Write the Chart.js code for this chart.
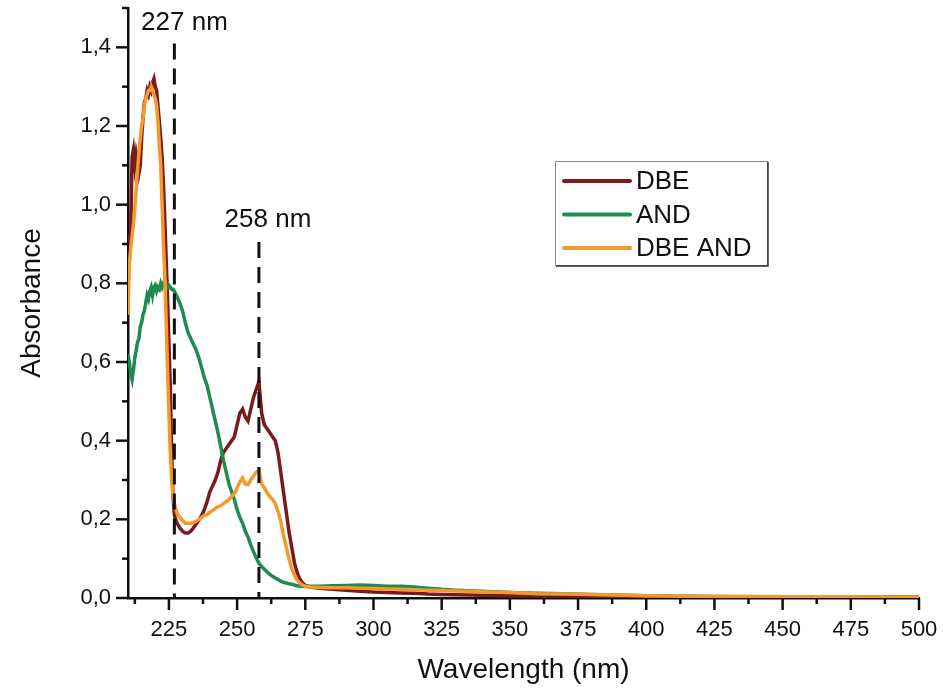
<!DOCTYPE html>
<html>
<head>
<meta charset="utf-8">
<script src="https://cdn.jsdelivr.net/npm/chart.js@4/dist/chart.umd.min.js"></script>
<style>
  html, body { margin: 0; padding: 0; background: #fff; }
  #wrap { width: 943px; height: 693px; }
</style>
</head>
<body>
<div id="wrap"><canvas id="c" width="943" height="693"></canvas></div>
<script>
// UV-Vis absorption spectra (wavelength in nm, absorbance)
const wavelength = [
  210, 210.5, 211, 211.5, 212, 212.5, 213, 213.5, 214, 214.5,
  215, 215.5, 216, 216.5, 217, 217.5, 218, 218.5, 219, 219.5,
  220, 220.5, 221, 221.5, 222, 222.5, 223, 223.5, 224, 224.5,
  225, 225.5, 226, 226.5, 227,
  228, 229, 230, 231, 232, 233, 234, 235, 236, 237,
  238, 239, 240, 241, 242, 243, 244, 245, 246, 247,
  248, 249, 250, 251, 252, 253, 254, 255, 256, 257,
  258, 259, 260, 261, 262, 263, 264, 265, 266, 267,
  268, 269, 270, 271, 272, 273, 274, 275,
  277, 280, 285, 290, 295, 300, 305, 310, 315, 320, 325,
  330, 340, 350, 360, 370, 380, 400, 425, 450, 475, 500
];

const absDBE = [
  0.92, 0.91, 0.93, 1.12, 1.14, 1.10, 1.13, 1.11, 1.08, 1.10,
  1.17, 1.22, 1.26, 1.27, 1.29, 1.28, 1.30, 1.29, 1.31, 1.32,
  1.30, 1.29, 1.25, 1.21, 1.17, 1.12, 1.05, 0.96, 0.86, 0.76,
  0.65, 0.54, 0.37, 0.26, 0.21,
  0.19, 0.178, 0.17, 0.165, 0.165, 0.17, 0.178, 0.188, 0.198, 0.21,
  0.225, 0.245, 0.27, 0.285, 0.30, 0.32, 0.35, 0.37, 0.38, 0.39,
  0.40, 0.41, 0.44, 0.47, 0.48, 0.46, 0.45, 0.48, 0.51, 0.53,
  0.55, 0.47, 0.44, 0.43, 0.42, 0.41, 0.40, 0.37, 0.32, 0.27,
  0.22, 0.17, 0.13, 0.09, 0.065, 0.048, 0.038, 0.032,
  0.028, 0.025, 0.022, 0.020, 0.017, 0.015, 0.014, 0.013, 0.012, 0.010, 0.009,
  0.008, 0.007, 0.006, 0.005, 0.005, 0.004, 0.003, 0.003, 0.002, 0.002, 0.002
];

const absAND = [
  0.62, 0.60, 0.57, 0.555, 0.58, 0.61, 0.63, 0.65, 0.66, 0.69,
  0.70, 0.72, 0.73, 0.75, 0.77, 0.76, 0.78, 0.79, 0.77, 0.79,
  0.795, 0.78, 0.79, 0.785, 0.80, 0.79, 0.80, 0.795, 0.80, 0.79,
  0.795, 0.79, 0.785, 0.785, 0.78,
  0.765, 0.75, 0.73, 0.70, 0.675, 0.66, 0.645, 0.63, 0.61, 0.585,
  0.56, 0.54, 0.51, 0.48, 0.45, 0.42, 0.385, 0.35, 0.32, 0.29,
  0.27, 0.25, 0.225, 0.205, 0.19, 0.17, 0.155, 0.135, 0.118, 0.102,
  0.088, 0.080, 0.073, 0.066, 0.060, 0.055, 0.051, 0.047, 0.043, 0.040,
  0.038, 0.036, 0.035, 0.033, 0.031, 0.030, 0.029, 0.029,
  0.030, 0.030, 0.031, 0.032, 0.033, 0.032, 0.030, 0.030, 0.028, 0.025, 0.022,
  0.020, 0.017, 0.014, 0.012, 0.011, 0.009, 0.006, 0.004, 0.003, 0.003, 0.002
];

const absDBEAND = [
  0.72, 0.85, 0.89, 0.92, 0.95, 0.99, 1.04, 1.09, 1.13, 1.17,
  1.20, 1.22, 1.25, 1.27, 1.28, 1.29, 1.29, 1.30, 1.29, 1.28,
  1.27, 1.25, 1.21, 1.15, 1.10, 1.00, 0.90, 0.82, 0.70, 0.58,
  0.47, 0.37, 0.30, 0.26, 0.24,
  0.215, 0.205, 0.197, 0.19, 0.19, 0.19, 0.192, 0.195, 0.20, 0.205,
  0.21, 0.212, 0.218, 0.222, 0.228, 0.232, 0.235, 0.24, 0.245, 0.25,
  0.258, 0.265, 0.28, 0.295, 0.305, 0.29, 0.288, 0.30, 0.31, 0.32,
  0.325, 0.29, 0.28, 0.268, 0.258, 0.25, 0.24, 0.22, 0.195, 0.16,
  0.13, 0.10, 0.075, 0.058, 0.045, 0.038, 0.033, 0.030,
  0.028, 0.027, 0.026, 0.026, 0.025, 0.024, 0.023, 0.022, 0.021, 0.020, 0.019,
  0.018, 0.016, 0.014, 0.011, 0.010, 0.009, 0.006, 0.004, 0.003, 0.003, 0.002
];

const seriesNames = ['DBE', 'AND', 'DBE AND'];
const seriesColors = ['#7b1a1c', '#1f8b4f', '#f49a2c'];

const xTicks = [225, 250, 275, 300, 325, 350, 375, 400, 425, 450, 475, 500];
const xMinorTicks = [212.5, 237.5, 262.5, 287.5, 312.5, 337.5, 362.5, 387.5, 412.5, 437.5, 462.5, 487.5];
const yTicks = [0, 0.2, 0.4, 0.6, 0.8, 1.0, 1.2, 1.4];
const yMinorTicks = [0.1, 0.3, 0.5, 0.7, 0.9, 1.1, 1.3, 1.5];

// Peak wavelengths marked with dashed lines
const peakWavelengths = [227, 258];
const peakLabels = ['227 nm', '258 nm'];

const FONT = '"Liberation Sans", Arial, Helvetica, sans-serif';
const INK = '#111';
Chart.defaults.font.family = FONT;
Chart.defaults.color = INK;

const toPoints = (ys) => wavelength.map((w, i) => ({ x: w, y: ys[i] }));

// Major and minor tick marks, drawn outward from the axes
const tickMarks = {
  id: 'tickMarks',
  afterDraw(chart) {
    const { ctx, chartArea: a, scales: { x, y } } = chart;
    ctx.save();
    ctx.strokeStyle = INK;
    ctx.lineWidth = 2.5;
    const seg = (x1, y1, x2, y2) => { ctx.beginPath(); ctx.moveTo(x1, y1); ctx.lineTo(x2, y2); ctx.stroke(); };
    xTicks.forEach(v => { const p = x.getPixelForValue(v); seg(p, a.bottom, p, a.bottom + 12); });
    xMinorTicks.forEach(v => { const p = x.getPixelForValue(v); seg(p, a.bottom, p, a.bottom + 6); });
    yTicks.forEach(v => { const p = y.getPixelForValue(v); seg(a.left - 12, p, a.left, p); });
    yMinorTicks.forEach(v => { const p = y.getPixelForValue(v); seg(a.left - 6, p, a.left, p); });
    ctx.restore();
  }
};

// Dashed vertical markers with their wavelength labels
const peakMarkers = {
  id: 'peakMarkers',
  afterDatasetsDraw(chart, args, opts) {
    const { ctx, scales: { x, y } } = chart;
    ctx.save();
    opts.items.forEach(m => {
      const px = x.getPixelForValue(m.nm);
      ctx.strokeStyle = INK;
      ctx.lineWidth = 3;
      ctx.setLineDash([16, 9]);
      ctx.beginPath();
      ctx.moveTo(px, y.getPixelForValue(m.top));
      ctx.lineTo(px, y.getPixelForValue(0));
      ctx.stroke();
      ctx.setLineDash([]);
      ctx.fillStyle = INK;
      ctx.font = '26px ' + FONT;
      ctx.textAlign = 'center';
      ctx.textBaseline = 'middle';
      ctx.fillText(m.text, x.getPixelForValue(m.textNm), y.getPixelForValue(m.textAbs));
    });
    ctx.restore();
  }
};

// Boxed legend inside the plot area
const boxLegend = {
  id: 'boxLegend',
  afterDraw(chart, args, opts) {
    const { ctx } = chart;
    const b = opts.box;
    ctx.save();
    ctx.strokeStyle = '#8a8a8a';
    ctx.lineWidth = 1;
    ctx.strokeRect(b.left + 0.5, b.top + 0.5, b.width, b.height);
    ctx.strokeStyle = '#333';
    ctx.lineWidth = 1.5;
    ctx.beginPath();
    ctx.moveTo(b.left + b.width + 1, b.top + 1);
    ctx.lineTo(b.left + b.width + 1, b.top + b.height + 1);
    ctx.lineTo(b.left + 1, b.top + b.height + 1);
    ctx.stroke();
    ctx.font = '26px ' + FONT;
    ctx.textBaseline = 'middle';
    ctx.textAlign = 'left';
    chart.data.datasets.forEach((ds, i) => {
      const yy = b.top + opts.firstRow + i * opts.rowGap;
      ctx.strokeStyle = ds.borderColor;
      ctx.lineWidth = 4;
      ctx.lineCap = 'round';
      ctx.beginPath();
      ctx.moveTo(b.left + 9, yy);
      ctx.lineTo(b.left + 75, yy);
      ctx.stroke();
      ctx.fillStyle = INK;
      ctx.fillText(ds.label, b.left + 81, yy + 1);
    });
    ctx.restore();
  }
};

const drawOrder = [2, 1, 0];

new Chart(document.getElementById('c'), {
  type: 'line',
  data: {
    datasets: [absDBE, absAND, absDBEAND].map((ys, i) => ({
      label: seriesNames[i],
      data: toPoints(ys),
      borderColor: seriesColors[i],
      backgroundColor: seriesColors[i],
      borderWidth: 3.5,
      pointRadius: 0,
      tension: 0,
      fill: false,
      order: drawOrder[i]
    }))
  },
  options: {
    responsive: false,
    animation: false,
    devicePixelRatio: 1,
    layout: { padding: { left: 0, right: 24, top: 8, bottom: 0 } },
    plugins: {
      legend: { display: false },
      tooltip: { enabled: false },
      boxLegend: {
        box: { left: 555, top: 161, width: 212, height: 104 },
        firstRow: 20,
        rowGap: 33.5
      },
      peakMarkers: {
        items: [
          { nm: peakWavelengths[0], text: peakLabels[0], top: 1.41, textNm: 230.7, textAbs: 1.463 },
          { nm: peakWavelengths[1], text: peakLabels[1], top: 0.905, textNm: 261.3, textAbs: 0.962 }
        ]
      }
    },
    scales: {
      x: {
        type: 'linear',
        min: 210,
        max: 500,
        afterBuildTicks: (s) => { s.ticks = xTicks.map(v => ({ value: v })); },
        afterFit: (s) => { s.height = 95; s.paddingLeft = 0; s.paddingRight = 0; },
        grid: { display: false, drawTicks: false, tickLength: 0 },
        border: { display: true, color: INK, width: 2.5 },
        ticks: {
          padding: 19,
          maxRotation: 0,
          autoSkip: false,
          font: { size: 22 },
          color: INK,
          callback: (v) => String(v)
        },
        title: {
          display: true,
          text: 'Wavelength (nm)',
          font: { size: 28 },
          color: INK,
          padding: { top: 0, bottom: 6 }
        }
      },
      y: {
        min: 0,
        max: 1.5,
        afterBuildTicks: (s) => { s.ticks = yTicks.map(v => ({ value: v })); },
        afterFit: (s) => { s.width = 128; s.paddingTop = 0; s.paddingBottom = 0; },
        grid: { display: false, drawTicks: false, tickLength: 0 },
        border: { display: true, color: INK, width: 2.5 },
        ticks: {
          padding: 17,
          autoSkip: false,
          font: { size: 22 },
          color: INK,
          callback: (v) => Number(v).toFixed(1).replace('.', ',')
        },
        title: {
          display: true,
          text: 'Absorbance',
          font: { size: 28 },
          color: INK,
          padding: { top: 15, bottom: 0 }
        }
      }
    }
  },
  plugins: [tickMarks, peakMarkers, boxLegend]
});
</script>
</body>
</html>
